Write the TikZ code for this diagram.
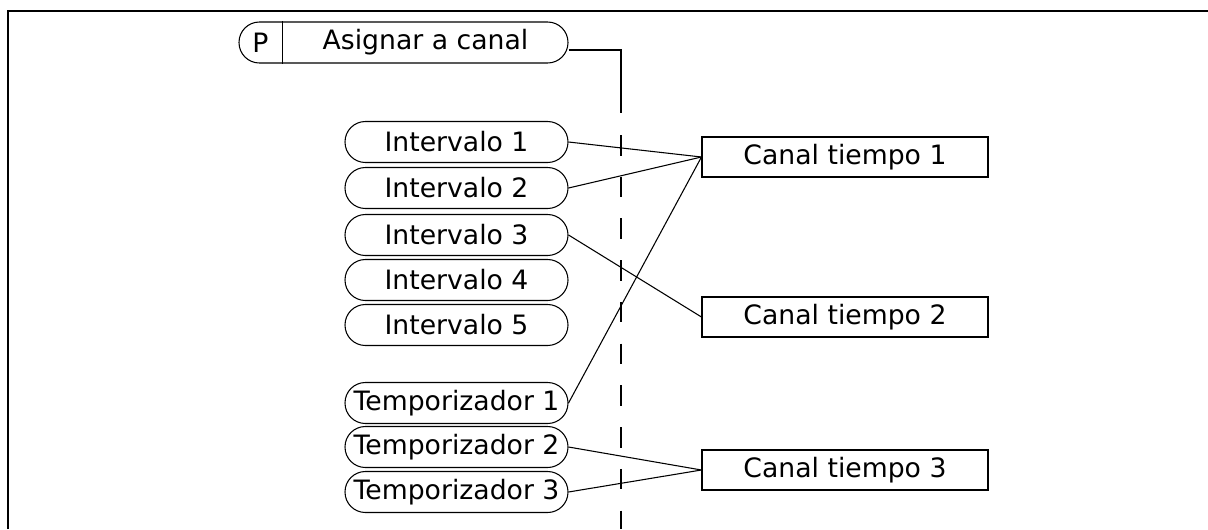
\documentclass[tikz,border=0pt]{standalone}
\usepackage{fontspec}
\setmainfont{DejaVu Sans}
\usepackage{tikz}
\tikzstyle{pill} = [draw, rectangle, rounded corners=15.3pt, minimum width=167.25pt, minimum height=30.75pt, inner sep=0pt, line width=0.8pt]
\tikzstyle{chan} = [draw, rectangle, minimum width=214.5pt, minimum height=30pt, inner sep=0pt, line width=0.8pt]
\tikzstyle{link} = [line width=0.8pt]

\begin{document}
\begin{tikzpicture}[x=0.75pt, y=-0.75pt, font=\fontsize{20}{24}\selectfont]
    \useasboundingbox (0,0) rectangle (1208,529);

    % Frame
    \draw[line width=1.6pt] (8,529) -- (8,11) -- (1208,11);

    % Parameter
    \node[pill, minimum width=246.75pt] (asg) at (403.5,42.5) {};
    \node (ptag) at ([xshift=16.5pt]asg.west) {P};
    \node (asgtxt) at ([xshift=16.5pt]asg.center) {Asignar a canal};
    \draw[link] ([xshift=33pt]asg.north west) -- ([xshift=33pt]asg.south west);

    % Separator
    \coordinate (drop) at (621,113);
    \coordinate (dtop) at (621,135);
    \coordinate (dbot) at (621,529);
    \draw[link] ([yshift=-5.6pt]asg.east) -| (drop);
    \draw[link, dash pattern=on 15.4pt off 15.9pt] (dtop) -- (dbot);

    % Intervals
    \node[pill] (int1) at (456.5,142) {Intervalo 1};
    \node[pill] (int2) at (456.5,188) {Intervalo 2};
    \node[pill] (int3) at (456.5,235) {Intervalo 3};
    \node[pill] (int4) at (456.5,280) {Intervalo 4};
    \node[pill] (int5) at (456.5,325) {Intervalo 5};

    % Timers
    \node[pill] (tmr1) at (456.5,403) {Temporizador 1};
    \node[pill] (tmr2) at (456.5,447) {Temporizador 2};
    \node[pill] (tmr3) at (456.5,492) {Temporizador 3};

    % Time channels
    \node[chan] (ch1) at (845,157) {Canal tiempo 1};
    \node[chan] (ch2) at (845,317) {Canal tiempo 2};
    \node[chan] (ch3) at (845,470) {Canal tiempo 3};

    % Links
    \draw[link] (int1.east) -- (ch1.west);
    \draw[link] (int2.east) -- (ch1.west);
    \draw[link] (tmr1.east) -- (ch1.west);
    \draw[link] (int3.east) -- (ch2.west);
    \draw[link] (tmr2.east) -- (ch3.west);
    \draw[link] (tmr3.east) -- (ch3.west);
\end{tikzpicture}
\end{document}
